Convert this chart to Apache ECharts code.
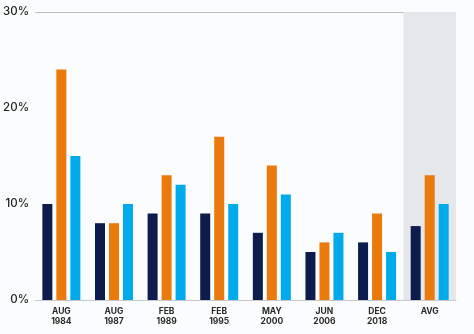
<!DOCTYPE html>
<html>
<head>
<meta charset="utf-8">
<script src="https://cdn.jsdelivr.net/npm/echarts@6/dist/echarts.min.js"></script>
<style>
  html, body { margin: 0; padding: 0; background: #fbfcfd; }
  #chart { width: 474px; height: 334px; }
</style>
</head>
<body>
<div id="chart"></div>
<script>
// Category labels (two lines each) and the three series, in percent
const categories = ['AUG\n1984', 'AUG\n1987', 'FEB\n1989', 'FEB\n1995', 'MAY\n2000', 'JUN\n2006', 'DEC\n2018', 'AVG'];
const seriesNavy = [10, 8, 9, 9, 7, 5, 6, 7.7];
const seriesOrange = [24, 8, 13, 17, 14, 6, 9, 13];
const seriesBlue = [15, 10, 12, 10, 11, 7, 5, 10];
const yTicks = [0, 10, 20, 30];

const chart = echarts.init(document.getElementById('chart'));

const fontFamily = 'Inter, "Noto Sans", sans-serif';

function barSeries(name, data, color, extra) {
  return Object.assign({
    name: name,
    type: 'bar',
    data: data,
    barWidth: 10,
    barGap: '40%',
    itemStyle: { color: color },
    emphasis: { disabled: true }
  }, extra || {});
}

chart.setOption({
  backgroundColor: '#fbfcfd',
  animation: false,
  grid: { left: 32, right: 18, top: 12, bottom: 34, containLabel: false },
  xAxis: {
    type: 'category',
    data: categories,
    axisLine: { show: true, lineStyle: { color: '#c8c9cc', width: 1 } },
    axisTick: { show: false },
    axisLabel: {
      color: '#2a2a2a',
      fontFamily: fontFamily,
      fontSize: 8.5,
      fontWeight: 'bold',
      lineHeight: 10,
      margin: 6,
      interval: 0
    }
  },
  yAxis: {
    type: 'value',
    min: yTicks[0],
    max: yTicks[yTicks.length - 1],
    interval: 10,
    axisLine: { show: false },
    axisTick: { show: false },
    axisLabel: {
      color: '#222',
      fontFamily: fontFamily,
      fontSize: 11.5,
      fontWeight: 500,
      margin: 6,
      formatter: v => v + '%'
    },
    splitLine: {
      show: true,
      lineStyle: { color: ['transparent', 'transparent', 'transparent', '#bdbdbd'], width: 1 }
    }
  },
  series: [
    barSeries('navy', seriesNavy, '#0b1c4d', {
      markArea: {
        silent: true,
        itemStyle: { color: '#e6e7eb' },
        data: [[{ xAxis: 'AVG' }, { xAxis: 'AVG' }]]
      }
    }),
    barSeries('orange', seriesOrange, '#ea7a0c'),
    barSeries('blue', seriesBlue, '#00aaeb')
  ]
});
</script>
</body>
</html>
